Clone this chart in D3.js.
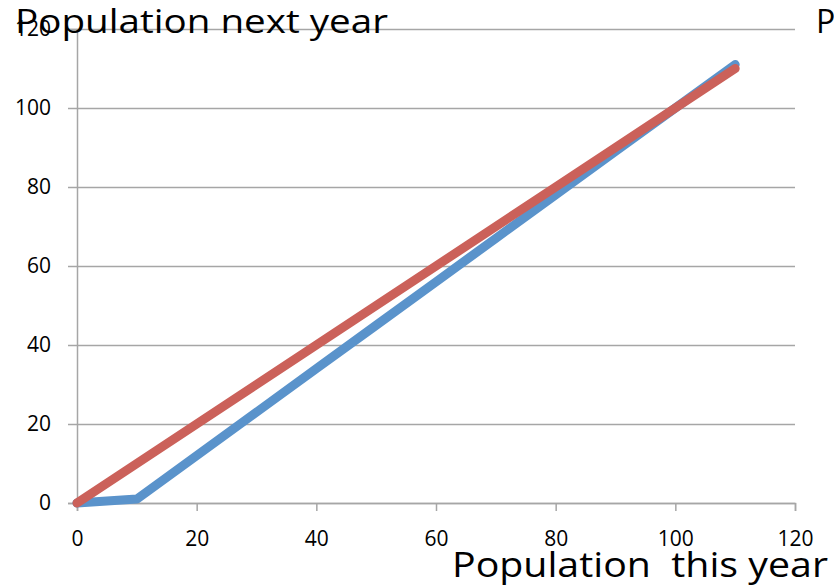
<!DOCTYPE html>
<html>
<head>
<meta charset="utf-8">
<script src="https://cdn.jsdelivr.net/npm/d3@7"></script>
<style>
  body { margin: 0; background: #fff; }
  svg { display: block; font-family: "Open Sans", sans-serif; }
</style>
</head>
<body>
<svg width="834" height="587"></svg>
<script>
// population this year (x) and next year (y) for the two series
const thisYear = [0, 10, 20, 30, 40, 50, 60, 70, 80, 90, 100, 110];
const nextYearBlue = [0, 1, 12, 23, 34, 45, 56, 67, 78, 89, 100, 111];
const nextYearRed = [0, 10, 20, 30, 40, 50, 60, 70, 80, 90, 100, 110];
const xTicks = [0, 20, 40, 60, 80, 100, 120];
const yTicks = [0, 20, 40, 60, 80, 100, 120];

const svg = d3.select("svg");
const plotLeft = 77, plotRight = 795, plotTop = 29, plotBottom = 503;

const x = d3.scaleLinear().domain([0, 120]).range([plotLeft, plotRight]);
const y = d3.scaleLinear().domain([0, 120]).range([plotBottom, plotTop]);

const gray = "#a6a6a6";

// gridlines
svg.append("g")
  .attr("transform", `translate(${plotLeft},0)`)
  .call(d3.axisLeft(y).tickValues(yTicks).tickSize(-(plotRight - plotLeft)).tickFormat(""))
  .call(g => g.select(".domain").remove())
  .call(g => g.selectAll("line").attr("stroke", gray).attr("stroke-width", 1.5));

// y axis
svg.append("g")
  .attr("transform", `translate(${plotLeft},0)`)
  .call(d3.axisLeft(y).tickValues(yTicks).tickSize(9).tickPadding(17))
  .call(g => g.select(".domain").attr("stroke", gray).attr("stroke-width", 1.5))
  .call(g => g.selectAll("line").attr("stroke", gray).attr("stroke-width", 1.5))
  .call(g => g.selectAll("text").attr("font-size", 21).attr("fill", "#000")
    .attr("font-family", "'Open Sans', sans-serif"));

// x axis
svg.append("g")
  .attr("transform", `translate(0,${plotBottom})`)
  .call(d3.axisBottom(x).tickValues(xTicks).tickSize(8).tickPadding(20))
  .call(g => g.select(".domain").attr("stroke", gray).attr("stroke-width", 1.5))
  .call(g => g.selectAll("line").attr("stroke", gray).attr("stroke-width", 1.5))
  .call(g => g.selectAll("text").attr("font-size", 21).attr("fill", "#000")
    .attr("font-family", "'Open Sans', sans-serif"));

const line = d3.line().x(d => x(d[0])).y(d => y(d[1]));

svg.append("path")
  .datum(thisYear.map((v, i) => [v, nextYearBlue[i]]))
  .attr("d", line)
  .attr("fill", "none")
  .attr("stroke", "#5a93cb")
  .attr("stroke-width", 9)
  .attr("stroke-linejoin", "round")
  .attr("stroke-linecap", "round");

svg.append("path")
  .datum(thisYear.map((v, i) => [v, nextYearRed[i]]))
  .attr("d", line)
  .attr("fill", "none")
  .attr("stroke", "#cb615a")
  .attr("stroke-width", 9)
  .attr("stroke-linejoin", "round")
  .attr("stroke-linecap", "round");

// titles
svg.append("text")
  .attr("x", 15).attr("y", 33)
  .attr("font-size", 32)
  .attr("textLength", 373).attr("lengthAdjust", "spacingAndGlyphs")
  .text("Population next year");

svg.append("text")
  .attr("x", 816).attr("y", 33)
  .attr("font-size", 32)
  .text("P");

svg.append("text")
  .attr("x", 452).attr("y", 577)
  .attr("font-size", 34)
  .attr("xml:space", "preserve")
  .style("white-space", "pre")
  .attr("textLength", 376).attr("lengthAdjust", "spacingAndGlyphs")
  .text("Population  this year");
</script>
</body>
</html>
